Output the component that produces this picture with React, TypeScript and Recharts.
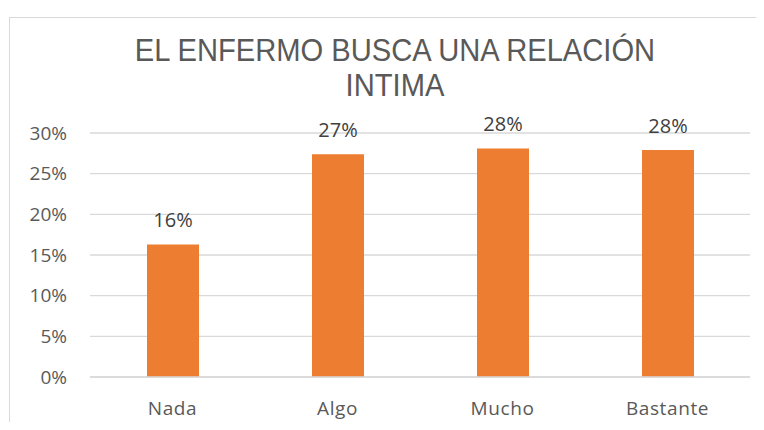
import React from "react";
import { BarChart, Bar, XAxis, YAxis, CartesianGrid, LabelList } from "recharts";

const categories = ["Nada", "Algo", "Mucho", "Bastante"];
const values = [0.163, 0.274, 0.281, 0.279];
const yTicks = [0, 0.05, 0.1, 0.15, 0.2, 0.25, 0.3];
const titleLines = ["EL ENFERMO BUSCA UNA RELACIÓN", "INTIMA"];

const data = categories.map((c, i) => ({ name: c, value: values[i] }));

const pct = (v: number) => `${Math.round(v * 100)}%`;

export default function App() {
  return (
    <div style={{ margin: -8, width: 764, height: 430, position: "relative", overflow: "hidden", background: "#fff" }}>
      <div style={{ position: "absolute", left: 9, top: 17, width: 780, height: 440, border: "1px solid #d9d9d9" }} />
      <div
        style={{
          position: "absolute",
          left: 0,
          top: 33,
          width: 790,
          textAlign: "center",
          fontFamily: "'Liberation Sans', Arial, sans-serif",
          fontSize: 31,
          lineHeight: "35px",
          color: "#595959",
          transform: "scaleX(0.94)",
          transformOrigin: "395px 0",
        }}
      >
        {titleLines.map((t) => (
          <div key={t}>{t}</div>
        ))}
      </div>
      <div style={{ position: "absolute", left: 0, top: 0 }}>
        <BarChart width={764} height={430} data={data} margin={{ top: 133, right: 14, bottom: 23, left: 0 }}>
          <CartesianGrid vertical={false} stroke="#d9d9d9" strokeWidth={1.3} />
          <XAxis
            dataKey="name"
            axisLine={{ stroke: "#d9d9d9", strokeWidth: 1.3 }}
            tickLine={false}
            tickMargin={19}
            tick={{ fill: "#595959", fontSize: 19, letterSpacing: 0.6, fontFamily: "'Open Sans', sans-serif" }}
          />
          <YAxis
            width={90}
            domain={[0, 0.3]}
            ticks={yTicks}
            tickFormatter={pct}
            axisLine={false}
            tickLine={false}
            tickMargin={17}
            tick={{ fill: "#595959", fontSize: 19, fontFamily: "'Open Sans', sans-serif" }}
          />
          <Bar dataKey="value" fill="#ED7D31" barSize={52} isAnimationActive={false}>
            <LabelList
              dataKey="value"
              position="top"
              offset={17}
              formatter={(v: number) => pct(v)}
              style={{ fill: "#404040", fontSize: 20, fontFamily: "'Open Sans', sans-serif" }}
            />
          </Bar>
        </BarChart>
      </div>
    </div>
  );
}
